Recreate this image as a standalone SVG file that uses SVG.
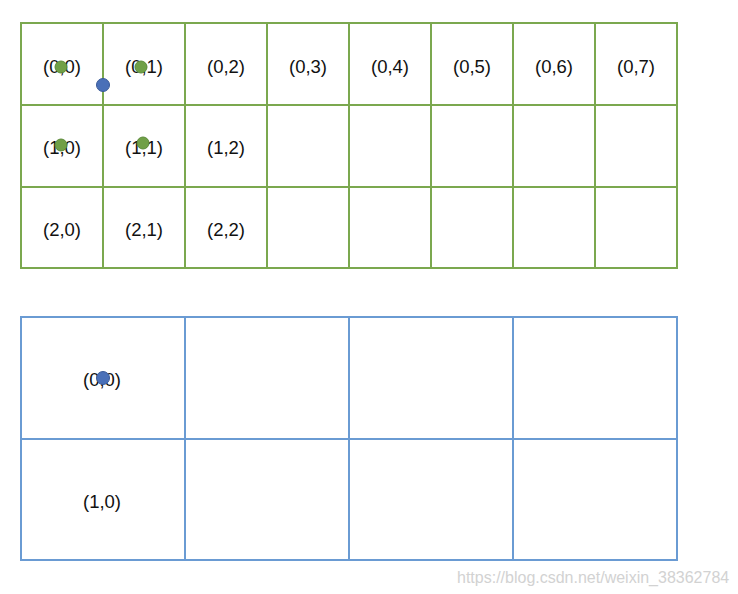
<svg xmlns="http://www.w3.org/2000/svg" width="738" height="594" viewBox="0 0 738 594">
<style>
.g{stroke:#7ba84f;stroke-width:2;fill:none}
.b{stroke:#6a9bd3;stroke-width:2;fill:none}
text{font-family:"Liberation Sans",Arial,sans-serif;font-size:18.5px;fill:#111;text-anchor:middle;dominant-baseline:central}
.gd{fill:#70a047;stroke:#5b8a38;stroke-width:1}
.bd{fill:#4a70b8;stroke:#3a5a98;stroke-width:1}
.wm{font-size:16px;fill:#d2d2d2;text-anchor:start}
</style>
<rect width="738" height="594" fill="#fff"/>
<g id="grid1">
<rect class="g" x="21" y="23" width="656" height="245"/>
<path class="g" d="M103 23V268M185 23V268M267 23V268M349 23V268M431 23V268M513 23V268M595 23V268M21 105H677M21 187H677"/>
<text x="62" y="66">(0,0)</text>
<text x="144" y="66">(0,1)</text>
<text x="226" y="66">(0,2)</text>
<text x="308" y="66">(0,3)</text>
<text x="390" y="66">(0,4)</text>
<text x="472" y="66">(0,5)</text>
<text x="554" y="66">(0,6)</text>
<text x="636" y="66">(0,7)</text>
<text x="62" y="147">(1,0)</text>
<text x="144" y="147">(1,1)</text>
<text x="226" y="147">(1,2)</text>
<text x="62" y="229">(2,0)</text>
<text x="144" y="229">(2,1)</text>
<text x="226" y="229">(2,2)</text>
</g>
<g id="grid2">
<rect class="b" x="21" y="317" width="656" height="243"/>
<path class="b" d="M185 317V560M349 317V560M513 317V560M21 439H677"/>
<text x="102" y="379">(0,0)</text>
<text x="102" y="501">(1,0)</text>
</g>
<g id="dots">
<circle class="gd" cx="61" cy="67" r="6"/>
<circle class="gd" cx="141" cy="67" r="6"/>
<circle class="gd" cx="61" cy="145" r="6"/>
<circle class="gd" cx="143" cy="143" r="6"/>
<circle class="bd" cx="103" cy="85" r="6.5"/>
<circle class="bd" cx="103" cy="378" r="6.5"/>
</g>
<text class="wm" x="457" y="577">https://blog.csdn.net/weixin_38362784</text>
</svg>
